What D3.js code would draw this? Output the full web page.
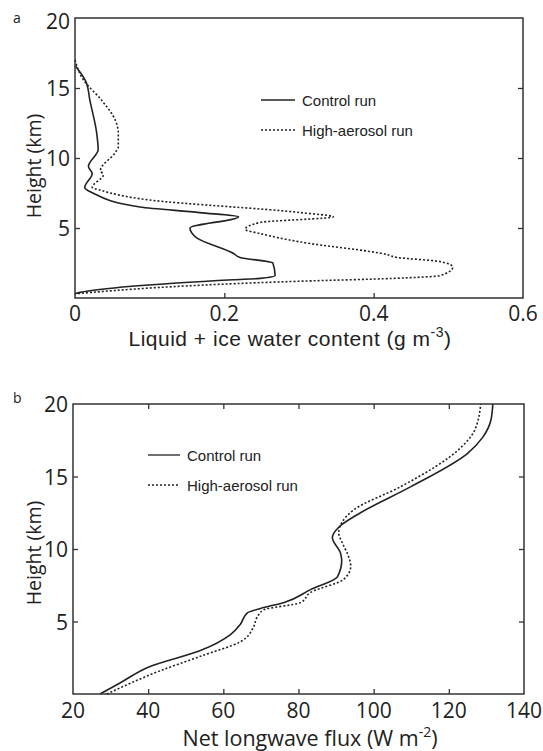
<!DOCTYPE html>
<html>
<head>
<meta charset="utf-8">
<script src="https://cdn.jsdelivr.net/npm/d3@7"></script>
<style>
  body { margin: 0; background: #fff; }
  svg text { fill: #222; }
</style>
</head>
<body>
<div id="vis"></div>
<script>
// panel a: liquid + ice water content (g m-3) vs height (km)
var ctrlA_h = [16.6, 15.4, 14.1, 11.8, 10.6, 9.4, 8.9, 7.9, 7.5, 6.5, 6.1, 5.8, 5.0, 4.3, 3.2, 2.9, 2.5, 1.6, 1.4, 1.3, 0.4, 0.3];
var ctrlA_v = [0, 0.015, 0.020, 0.029, 0.031, 0.018, 0.023, 0.013, 0.024, 0.087, 0.167, 0.219, 0.154, 0.163, 0.212, 0.221, 0.265, 0.268, 0.248, 0.212, 0.007, 0];
var aeroA_h = [17.0, 15.6, 14.1, 12.7, 11.8, 10.8, 10.4, 9.1, 8.8, 7.9, 7.7, 7.0, 6.1, 5.8, 5.4, 4.9, 4.6, 4.0, 3.1, 2.9, 2.6, 2.2, 1.6, 1.4, 1.2, 0.3];
var aeroA_v = [0, 0.011, 0.036, 0.054, 0.058, 0.058, 0.054, 0.034, 0.038, 0.023, 0.034, 0.100, 0.302, 0.346, 0.248, 0.228, 0.248, 0.302, 0.418, 0.431, 0.489, 0.506, 0.489, 0.426, 0.302, 0];

// panel b: net longwave flux (W m-2) vs height (km)
var ctrlB_h = [0, 0.76, 1.9, 3.0, 4.1, 4.8, 5.6, 5.9, 6.3, 7.2, 8.1, 9.2, 9.7, 10.8, 11.5, 12.5, 14.3, 16.6, 17.7, 18.9, 20];
var ctrlB_v = [27.2, 32.5, 40.5, 53.9, 61.9, 64.5, 66.4, 69.9, 76.0, 83.2, 90.4, 91.5, 91.2, 89.0, 90.7, 96.5, 109.9, 125.0, 129.0, 131.2, 131.7];
var aeroB_h = [0, 1.6, 2.6, 3.6, 4.6, 5.3, 5.8, 6.3, 7.0, 7.9, 8.8, 9.5, 10.4, 11.1, 12.7, 14.3, 17.0, 18.1, 20];
var aeroB_v = [29.0, 43.2, 53.9, 64.5, 68.0, 69.0, 70.7, 80.5, 83.2, 92.0, 93.9, 93.3, 91.7, 90.7, 94.7, 107.2, 123.2, 126.7, 128.5];

var yTicks = [5, 10, 15, 20];
var xTicksA = [0, 0.2, 0.4, 0.6];
var xTicksB = [20, 40, 60, 80, 100, 120, 140];
var seriesNames = ["Control run", "High-aerosol run"];

var W = 543, H = 751;
var tickFont = "'Open Sans', 'DejaVu Sans', sans-serif";
var armFont = "'Liberation Sans', Arial, sans-serif";

var svg = d3.select("#vis").append("svg")
  .attr("width", W)
  .attr("height", H);

function pairs(hs, vs) {
  return hs.map(function(h, i) { return {h: h, v: vs[i]}; });
}

function panel(opt) {
  var x = d3.scaleLinear().domain(opt.xDomain).range([opt.left, opt.right]);
  var y = d3.scaleLinear().domain([0, 20]).range([opt.bottom, opt.top]);
  var g = svg.append("g");

  var line = d3.line()
    .x(function(d) { return x(d.v); })
    .y(function(d) { return y(d.h); })
    .curve(d3.curveMonotoneY);

  g.append("path")
    .datum(opt.ctrl)
    .attr("d", line)
    .attr("fill", "none")
    .attr("stroke", "#222")
    .attr("stroke-width", 1.6);

  g.append("path")
    .datum(opt.aero)
    .attr("d", line)
    .attr("fill", "none")
    .attr("stroke", "#222")
    .attr("stroke-width", 1.6)
    .attr("stroke-dasharray", "2,2");

  // inward ticks on all sides
  var tl = 5;
  g.append("g")
    .attr("transform", "translate(" + opt.left + ",0)")
    .call(d3.axisRight(y).tickValues([5, 10, 15]).tickSize(tl).tickFormat(""));
  g.append("g")
    .attr("transform", "translate(" + opt.right + ",0)")
    .call(d3.axisLeft(y).tickValues([5, 10, 15]).tickSize(tl).tickFormat(""));
  g.append("g")
    .attr("transform", "translate(0," + opt.bottom + ")")
    .call(d3.axisTop(x).tickValues(opt.innerX).tickSize(tl).tickFormat(""));
  if (opt.topTicks) {
    g.append("g")
      .attr("transform", "translate(0," + opt.top + ")")
      .call(d3.axisBottom(x).tickValues(opt.innerX).tickSize(tl).tickFormat(""));
  }
  g.selectAll(".domain").remove();
  g.selectAll(".tick line").attr("stroke", "#333").attr("stroke-width", 1.3);

  // frame
  g.append("rect")
    .attr("x", opt.left).attr("y", opt.top)
    .attr("width", opt.right - opt.left).attr("height", opt.bottom - opt.top)
    .attr("fill", "none").attr("stroke", "#333").attr("stroke-width", 1.5);

  // tick labels
  g.selectAll(".ylab").data(yTicks).enter().append("text")
    .attr("x", opt.left - 5)
    .attr("y", function(d) { return y(d) + (d === 20 ? opt.topLabOff : 8); })
    .attr("text-anchor", "end")
    .style("font-family", tickFont).style("font-size", "21px")
    .text(function(d) { return d; });
  g.selectAll(".xlab").data(opt.xTicks).enter().append("text")
    .attr("x", function(d) { return x(d); })
    .attr("y", opt.bottom + opt.xLabOff)
    .attr("text-anchor", "middle")
    .style("font-family", tickFont).style("font-size", "21px")
    .text(function(d) { return d; });

  // axis titles
  g.append("text")
    .attr("transform", "translate(" + 41 + "," + opt.yTitleY + ") rotate(-90)")
    .attr("text-anchor", "middle")
    .style("font-family", tickFont).style("font-size", "19.5px")
    .text("Height (km)");
  var xt = g.append("text")
    .attr("x", opt.xTitleX)
    .attr("y", opt.xTitleBase)
    .attr("text-anchor", "middle")
    .style("font-family", opt.xTitleFont).style("font-size", opt.xTitleSize)
    .style("letter-spacing", opt.xTitleSpacing);
  xt.append("tspan").text(opt.xTitle);
  xt.append("tspan").attr("dy", -9).style("font-size", "14px").text(opt.xSup);
  xt.append("tspan").attr("dy", 9).text(")");

  // panel letter
  g.append("text")
    .attr("x", 13).attr("y", opt.top + opt.letterOff)
    .style("font-family", tickFont).style("font-size", "14px")
    .text(opt.letter);

  // legend
  var leg = g.selectAll(".leg").data(seriesNames).enter().append("g")
    .attr("transform", function(d, i) {
      return "translate(" + opt.legX + "," + (opt.legY + i * 30) + ")";
    });
  leg.append("line")
    .attr("x1", 0).attr("x2", opt.legLen).attr("y1", 0).attr("y2", 0)
    .attr("stroke", "#222").attr("stroke-width", 1.3)
    .attr("stroke-dasharray", function(d, i) { return i ? "2,2" : null; });
  leg.append("text")
    .attr("x", opt.legLen + 7).attr("y", 6)
    .style("font-family", armFont).style("font-size", "15px")
    .text(function(d) { return d; });
}

panel({
  letter: "a", letterOff: 5, topLabOff: 11,
  left: 75, right: 523, top: 18, bottom: 298,
  xDomain: [0, 0.6], xTicks: xTicksA, innerX: [0.2, 0.4], topTicks: false,
  ctrl: pairs(ctrlA_h, ctrlA_v), aero: pairs(aeroA_h, aeroA_v),
  xLabOff: 23, yTitleY: 166,
  xTitle: "Liquid + ice water content (g m", xSup: "-3", xTitleX: 290, xTitleBase: 346,
  xTitleFont: armFont, xTitleSize: "21px", xTitleSpacing: "0.5px",
  legX: 261, legY: 100, legLen: 34
});

panel({
  letter: "b", letterOff: -1, topLabOff: 8,
  left: 73, right: 524, top: 404, bottom: 694,
  xDomain: [20, 140], xTicks: xTicksB, innerX: [40, 60, 80, 100, 120], topTicks: true,
  ctrl: pairs(ctrlB_h, ctrlB_v), aero: pairs(aeroB_h, aeroB_v),
  xLabOff: 24, yTitleY: 553,
  xTitle: "Net longwave flux (W m", xSup: "-2", xTitleX: 310, xTitleBase: 746,
  xTitleFont: tickFont, xTitleSize: "21.5px", xTitleSpacing: "0px",
  legX: 148, legY: 455, legLen: 32
});
</script>
</body>
</html>
